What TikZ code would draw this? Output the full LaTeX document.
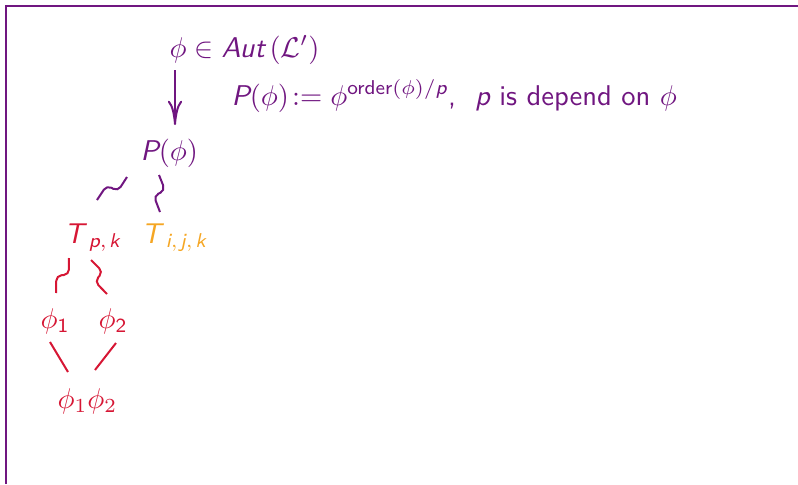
\documentclass[tikz,border=0pt]{standalone}
\usepackage{amsmath}
\usetikzlibrary{arrows.meta,calc}
\definecolor{lilac}{RGB}{112,22,128}
\definecolor{crimson}{RGB}{214,22,52}
\definecolor{amber}{RGB}{245,166,35}
\newcommand{\sv}[1]{\textsf{\itshape #1}}
\newcommand{\sn}[1]{\textsf{#1}}
\begin{document}
\begin{tikzpicture}[x=0.35pt,y=-0.35pt,
  lbl/.style={inner sep=0pt,anchor=base west,font=\sffamily},
  edge/.style={line width=0.7pt},
  wave/.style={edge,rounded corners=1.8pt,to path={
    -- ($(\tikztostart)!0.42!(\tikztotarget)!#1!90:(\tikztotarget)$)
    -- ($(\tikztostart)!0.56!(\tikztotarget)!#1!-90:(\tikztotarget)$)
    -- (\tikztotarget) \tikztonodes}},
  wave/.default=2pt]
\useasboundingbox (0,0) rectangle (798,484);
\draw[lilac,line width=0.6pt] (6,484) -- (6,6) -- (798,6);
\node[lbl,lilac] (aut) at (169,57) {$\phi\in \sv{Aut}\,(\mathcal{L}')$};
\node[lbl,lilac] (def) at (231,105) {$\sv{P}(\phi)\!:= \phi^{\sn{order}(\phi)/\sv{p}}$,\ \ $\sv{p}$ is depend on $\phi$};
\node[lbl,lilac] (P) at (140,160) {$\sv{P}(\phi)$};
\node[lbl,crimson] (Tp) at (64,243) {$\sv{T}\,{}_{\sv{p},\mkern2mu\sv{k}}$};
\node[lbl,amber] (Tij) at (141,243) {$\sv{T}\,{}_{\sv{i},\mkern2mu\sv{j},\mkern2mu\sv{k}}$};
\node[lbl,crimson] (phiA) at (40,328) {$\phi_{\sn{1}}$};
\node[lbl,crimson] (phiB) at (98,328) {$\phi_{\sn{2}}$};
\node[lbl,crimson,font=\rmfamily] (prod) at (57,408) {$\phi_1\phi_2$};
\draw[lilac,edge,-{To[length=8.5pt,width=5pt]}] ([shift={(6,13)}]aut.base west) -- ([shift={(35,-35)}]P.base west);
\draw[lilac,wave] ([shift={(-13,17)}]P.base west) to ([shift={(33,-43)}]Tp.base west);
\draw[lilac,wave] ([shift={(19,15)}]P.base west) to ([shift={(19,-31)}]Tij.base west);
\draw[crimson,wave] ([shift={(5,15)}]Tp.base west) to ([shift={(16,-35)}]phiA.base west);
\draw[crimson,wave] ([shift={(27,17)}]Tp.base west) to ([shift={(9,-34)}]phiB.base west);
\draw[crimson,edge] ([shift={(10,14)}]phiA.base west) -- ([shift={(11,-36)}]prod.base west);
\draw[crimson,edge] ([shift={(18,15)}]phiB.base west) -- ([shift={(38,-38)}]prod.base west);
\end{tikzpicture}
\end{document}
